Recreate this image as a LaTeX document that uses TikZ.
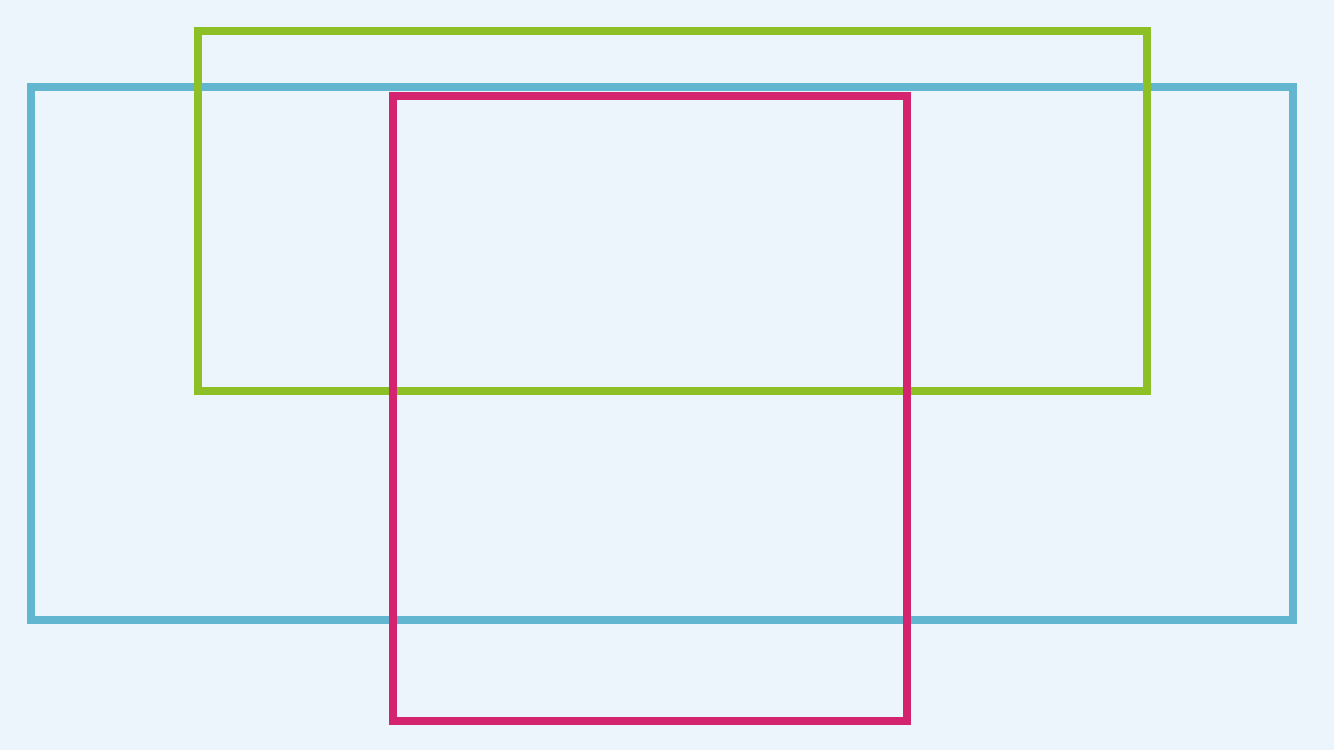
\documentclass[tikz,border=0pt]{standalone}
\usepackage{tikz}

\definecolor{bgsky}{HTML}{EDF5FC}
\definecolor{framecyan}{HTML}{62B6D0}
\definecolor{framelime}{HTML}{8CC026}
\definecolor{framerose}{HTML}{D4246F}

\begin{document}
\begin{tikzpicture}[x=0.01cm,y=-0.01cm,
    frame/.style={line width=2.2pt, line join=miter}]
% background
\fill[bgsky] (0,0) rectangle (1334,750);

% wide frame
\draw[frame, framecyan] (31,87) rectangle (1293,620);

% upper frame
\draw[frame, framelime] (198,31) rectangle (1147,391);

% tall frame
\draw[frame, framerose] (393,96) rectangle (907,721);
\end{tikzpicture}
\end{document}
